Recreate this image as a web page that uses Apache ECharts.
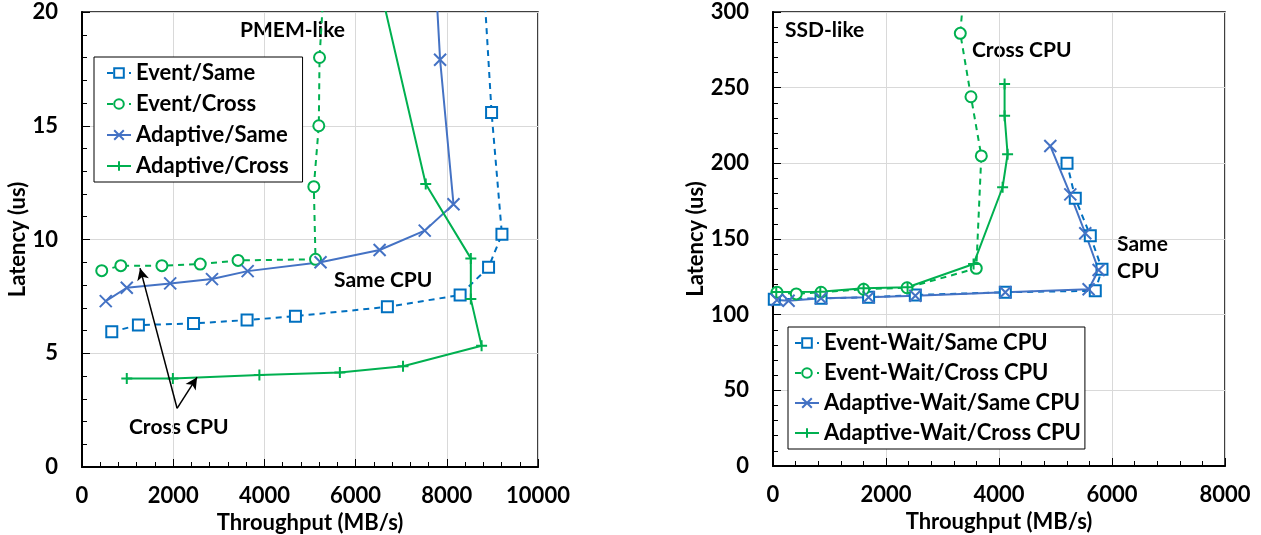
<!DOCTYPE html>
<html>
<head>
<meta charset="utf-8">
<script src="https://cdn.jsdelivr.net/npm/echarts@6/dist/echarts.min.js"></script>
<style>
  html, body { margin: 0; padding: 0; background: #fff; }
  #chart { width: 1261px; height: 535px; }
</style>
</head>
<body>
<div id="chart"></div>
<script>
// PMEM-like panel: [throughput MB/s, latency us]
const pmemEventSame = [[653, 5.94], [1237, 6.24], [2446, 6.31], [3620, 6.46], [4681, 6.63], [6697, 7.04], [8292, 7.56], [8916, 8.78], [9209, 10.23], [8982, 15.58], [8700, 25]]
const pmemEventCross = [[433, 8.63], [851, 8.85], [1752, 8.85], [2593, 8.92], [3422, 9.08], [5121, 9.13], [5084, 12.32], [5193, 15.0], [5209, 18.0], [5390, 24]]
const pmemAdaptiveSame = [[521, 7.29], [982, 7.88], [1934, 8.07], [2851, 8.26], [3633, 8.61], [5231, 9.0], [6527, 9.54], [7516, 10.39], [8147, 11.55], [7853, 17.9], [7740, 22]]
const pmemAdaptiveCross = [[982, 3.89], [1993, 3.89], [3890, 4.04], [5655, 4.15], [7040, 4.43], [8763, 5.33], [8527, 7.38], [8527, 9.17], [7538, 12.44], [6433, 22]]

// SSD-like panel
const ssdEventSame = [[23, 110.2], [850, 110.8], [1692, 111.5], [2519, 113.0], [4112, 114.8], [5704, 115.8], [5823, 130.0], [5616, 152.2], [5350, 176.9], [5204, 200.0]]
const ssdEventCross = [[71, 114.8], [412, 113.7], [850, 114.8], [1604, 116.8], [2372, 117.8], [3598, 130.6], [3687, 204.9], [3504, 244.0], [3315, 285.9], [3390, 320]]
const ssdAdaptiveSame = [[71, 109.7], [276, 109.2], [850, 110.8], [1692, 111.5], [2519, 112.5], [4112, 114.8], [5586, 116.8], [5763, 129.5], [5527, 153.8], [5262, 179.5], [4908, 211.5]]
const ssdAdaptiveCross = [[58, 115.0], [837, 115.2], [1604, 117.4], [2382, 118.1], [3550, 133.5], [4064, 184.2], [4152, 206.0], [4099, 231.5], [4099, 252.4]]

// annotation arrow (Cross CPU) in data coords of the left panel
const crossArrowFrom = [2085, 2.58]
const crossArrowTo = [[1273, 8.74], [2524, 3.95]]

const FONT = 'Lato'
const FS = 22
const BLUE = '#0070C0'
const BLUE2 = '#4472C4'
const GREEN = '#00B050'
const SYM_X = 'path://M0,0L10,10M10,0L0,10'
const SYM_PLUS = 'path://M5,0L5,10M0,5L10,5'

const chart = echarts.init(document.getElementById('chart'))

const boldText = { fontFamily: FONT, fontWeight: 'bold', fontSize: FS, color: '#000' }

function mainX(grid, max) {
  return {
    type: 'value', gridIndex: grid, min: 0, max: max, interval: 2000,
    name: 'Throughput (MB/s)', nameLocation: 'middle', nameGap: 43,
    nameTextStyle: boldText,
    axisLine: { show: true, onZero: false, lineStyle: { color: '#000', width: 2 } },
    axisTick: { show: true, inside: true, length: 7, lineStyle: { color: '#000', width: 1 } },
    minorTick: { show: true, splitNumber: 5, length: 5, lineStyle: { color: '#000', width: 1 } },
    axisLabel: Object.assign({ margin: 18, formatter: v => String(v) }, boldText),
    splitLine: { show: true, lineStyle: { color: '#d9d9d9', width: 1 } }
  }
}
function mainY(grid, max, interval, gap) {
  return {
    type: 'value', gridIndex: grid, min: 0, max: max, interval: interval,
    name: 'Latency (us)', nameLocation: 'middle', nameGap: gap,
    nameTextStyle: boldText,
    axisLine: { show: true, onZero: false, lineStyle: { color: '#000', width: 2 } },
    axisTick: { show: true, inside: true, length: 7, lineStyle: { color: '#000', width: 1 } },
    minorTick: { show: true, splitNumber: 5, length: 5, lineStyle: { color: '#000', width: 1 } },
    axisLabel: Object.assign({ margin: 24 }, boldText),
    splitLine: { show: true, lineStyle: { color: '#d9d9d9', width: 1 } }
  }
}
// overlay axes: only the outer half of the major ticks
function tickAxis(base) {
  return Object.assign({}, base, {
    name: '', axisLine: { show: false },
    axisTick: { show: true, inside: false, length: 8, lineStyle: { color: '#000', width: 1 } },
    minorTick: { show: false }, axisLabel: { show: false }, splitLine: { show: false }
  })
}

function mk(name, data, x, y, color, dashed, symbol, size) {
  const path = symbol.indexOf('path://') === 0
  return {
    name: name, type: 'line', xAxisIndex: x, yAxisIndex: y, data: data,
    symbol: symbol, symbolSize: size, showAllSymbol: true, clip: true,
    color: color,
    lineStyle: { color: color, width: 2, type: dashed ? [6, 5] : 'solid' },
    itemStyle: { color: path ? color : '#fff', borderColor: color, borderWidth: 2 },
    emphasis: { disabled: true },
    z: 3
  }
}

const leftX = mainX(0, 10000)
const leftY = mainY(0, 20, 5, 53)
const rightX = mainX(1, 8000)
const rightY = mainY(1, 300, 50, 62)

const crossSeries = mk('Adaptive/Cross', pmemAdaptiveCross, 0, 0, GREEN, false, SYM_PLUS, 11)
crossSeries.markLine = {
  silent: true,
  symbol: ['none', 'arrow'],
  symbolSize: [9, 12],
  label: { show: false },
  lineStyle: { color: '#000', width: 1.5, type: 'solid' },
  data: crossArrowTo.map(t => [{ coord: crossArrowFrom }, { coord: t }])
}

const annot = 'bold 21px Lato'

chart.setOption({
  animation: false,
  backgroundColor: '#fff',
  grid: [
    { left: 82, right: 723, top: 12, bottom: 68, outerBoundsMode: 'none', containLabel: false, show: true, borderColor: '#000', borderWidth: 1.5 },
    { left: 773, right: 36, top: 12, bottom: 69, outerBoundsMode: 'none', containLabel: false, show: true, borderColor: '#000', borderWidth: 1.5 }
  ],
  xAxis: [leftX, tickAxis(leftX), rightX, tickAxis(rightX)],
  yAxis: [leftY, tickAxis(leftY), rightY, tickAxis(rightY)],
  legend: [
    {
      data: ['Event/Same', 'Event/Cross', 'Adaptive/Same', 'Adaptive/Cross'],
      orient: 'vertical', left: 94, top: 57,
      backgroundColor: '#fff', borderColor: '#000', borderWidth: 1,
      padding: [5, 14, 5, 12], itemGap: 9, itemWidth: 24, itemHeight: 12,
      textStyle: boldText, selectedMode: false
    },
    {
      data: ['Event-Wait/Same CPU', 'Event-Wait/Cross CPU', 'Adaptive-Wait/Same CPU', 'Adaptive-Wait/Cross CPU'],
      orient: 'vertical', left: 788, top: 327,
      backgroundColor: '#fff', borderColor: '#000', borderWidth: 1,
      padding: [5, 4, 5, 6], itemGap: 8, itemWidth: 24, itemHeight: 12,
      textStyle: boldText, selectedMode: false
    }
  ],
  series: [
    mk('Event/Same', pmemEventSame, 0, 0, BLUE, true, 'rect', 11),
    mk('Event/Cross', pmemEventCross, 0, 0, GREEN, true, 'circle', 11),
    mk('Adaptive/Same', pmemAdaptiveSame, 0, 0, BLUE2, false, SYM_X, 12),
    crossSeries,
    mk('Event-Wait/Same CPU', ssdEventSame, 2, 2, BLUE, true, 'rect', 11),
    mk('Event-Wait/Cross CPU', ssdEventCross, 2, 2, GREEN, true, 'circle', 11),
    mk('Adaptive-Wait/Same CPU', ssdAdaptiveSame, 2, 2, BLUE2, false, SYM_X, 12),
    mk('Adaptive-Wait/Cross CPU', ssdAdaptiveCross, 2, 2, GREEN, false, SYM_PLUS, 11)
  ],
  graphic: [
    { type: 'text', left: 240, top: 20, style: { text: 'PMEM-like', font: annot, fill: '#000' } },
    { type: 'text', left: 334, top: 270, style: { text: 'Same CPU', font: annot, fill: '#000' } },
    { type: 'text', left: 129, top: 417, style: { text: 'Cross CPU', font: annot, fill: '#000' } },
    { type: 'text', left: 785, top: 20, style: { text: 'SSD-like', font: annot, fill: '#000' } },
    { type: 'text', left: 972, top: 40, style: { text: 'Cross CPU', font: annot, fill: '#000' } },
    { type: 'text', left: 1117, top: 234, style: { text: 'Same', font: annot, fill: '#000' } },
    { type: 'text', left: 1117, top: 261, style: { text: 'CPU', font: annot, fill: '#000' } }
  ]
})
</script>
</body>
</html>
